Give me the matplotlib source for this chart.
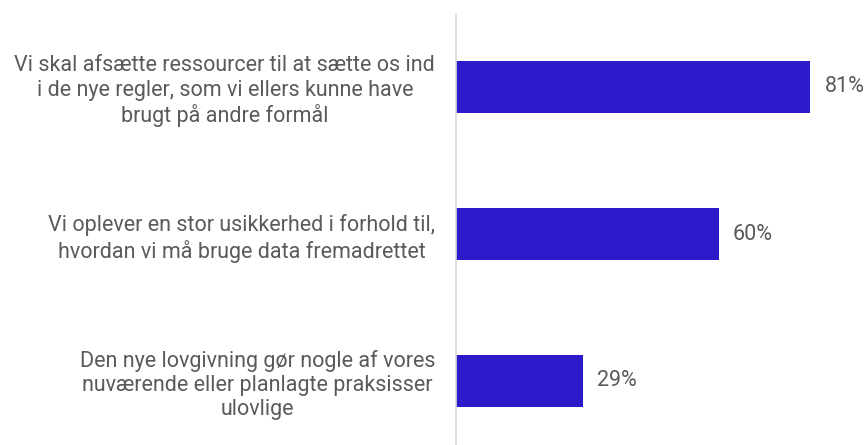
import matplotlib.pyplot as plt

categories = [
    "Vi skal afsætte ressourcer til at sætte os ind\ni de nye regler, som vi ellers kunne have\nbrugt på andre formål",
    "Vi oplever en stor usikkerhed i forhold til,\nhvordan vi må bruge data fremadrettet",
    "Den nye lovgivning gør nogle af vores\nnuværende eller planlagte praksisser\nulovlige",
]
values = [81, 60, 29]
value_labels = ["81%", "60%", "29%"]

bar_color = "#2C1ACB"
text_color = "#5a5a5a"

plt.rcParams['font.family'] = ['Roboto', 'DejaVu Sans']

W, H = 865, 445
fig = plt.figure(figsize=(W / 100, H / 100), dpi=100)
ax_left, ax_right = 456, 841
ax = fig.add_axes([ax_left / W, 0, (ax_right - ax_left) / W, (H - 13.5) / H])

ypos = list(range(len(values)))
ax.barh(ypos, values, height=0.354, color=bar_color)
ax.set_xlim(0, 88)
ax.set_ylim(2 + (445 - 381) / 147, -0.5)

for y, v, lab in zip(ypos, values, value_labels):
    ax.annotate(lab, (v, y), xytext=(14, 0), textcoords='offset pixels',
                va='center', ha='left', fontsize=15.5, color=text_color)

ax.set_yticks(ypos)
ax.set_yticklabels(categories, fontsize=15.5, color=text_color, multialignment='center',
                   linespacing=1.2)
ax.tick_params(axis='y', length=0, pad=15)
ax.set_xticks([])

for s in ['top', 'right', 'bottom']:
    ax.spines[s].set_visible(False)
ax.spines['left'].set_color('#d9d9d9')
ax.spines['left'].set_linewidth(1.2)

fig.savefig('out.png', dpi=100)
